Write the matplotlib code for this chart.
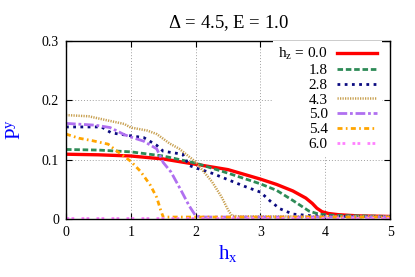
import matplotlib
matplotlib.use("Agg")
import matplotlib.pyplot as plt

# -----------------------------------------------------------------
# data
# -----------------------------------------------------------------
hz_labels = ["0.0", "1.8", "2.8", "4.3", "5.0", "5.4", "6.0"]

x_00 = [0, 0.5, 1.0, 1.5, 2.0, 2.5, 3.0, 3.25, 3.5, 3.7, 3.8, 3.87, 3.95, 4.05, 4.2, 4.5, 5.0]
y_00 = [0.109, 0.108, 0.106, 0.101, 0.092, 0.083, 0.067, 0.058, 0.047, 0.035, 0.026, 0.018, 0.012,
        0.009, 0.007, 0.005, 0.004]

x_18 = [0, 0.5, 1.0, 1.5, 2.0, 2.5, 3.0, 3.25, 3.5, 3.75, 3.9, 4.1, 4.5, 5.0]
y_18 = [0.117, 0.116, 0.113, 0.106, 0.094, 0.077, 0.059, 0.048, 0.031, 0.013, 0.008, 0.006, 0.005, 0.004]

x_28 = [0, 0.55, 0.62, 0.7, 1.0, 1.2, 1.4, 1.5, 1.8, 1.9, 2.0, 2.25, 2.5, 2.75, 3.0, 3.15, 3.3,
        3.5, 3.8, 4.2, 5.0]
y_28 = [0.155, 0.155, 0.150, 0.145, 0.140, 0.137, 0.124, 0.114, 0.109, 0.090, 0.086, 0.077, 0.066,
        0.055, 0.045, 0.030, 0.017, 0.008, 0.005, 0.004, 0.004]

x_43 = [0, 0.35, 0.6, 0.9, 1.0, 1.25, 1.4, 1.5, 1.6, 1.75, 2.0, 2.25, 2.4, 2.5, 2.56, 2.7, 5.0]
y_43 = [0.175, 0.173, 0.167, 0.160, 0.154, 0.149, 0.143, 0.135, 0.127, 0.118, 0.096, 0.063, 0.037,
        0.015, 0.005, 0.004, 0.004]

x_50 = [0, 0.45, 0.68, 0.9, 1.0, 1.2, 1.4, 1.5, 1.62, 1.77, 1.9, 2.0, 2.1, 5.0]
y_50 = [0.161, 0.158, 0.154, 0.142, 0.138, 0.131, 0.118, 0.095, 0.079, 0.049, 0.022, 0.005, 0.003, 0.003]

x_54 = [0, 0.2, 0.4, 0.65, 0.8, 1.0, 1.15, 1.3, 1.4, 1.46, 1.5, 5.0]
y_54 = [0.143, 0.136, 0.132, 0.126, 0.113, 0.097, 0.080, 0.057, 0.036, 0.015, 0.003, 0.003]

x_60 = [0, 5.0]
y_60 = [0.002, 0.002]

xs = [x_00, x_18, x_28, x_43, x_50, x_54, x_60]
ys = [y_00, y_18, y_28, y_43, y_50, y_54, y_60]

colors = ["#ff0000", "#2e8b57", "#0a0a80", "#c8a050", "#b070f0", "#ffa500", "#ff80ff"]
dashes = [None, (2, 1), (1, 1.6), (0.5, 0.5), (3.5, 1, 1, 1), (1.8, 1.2, 0.6, 1.2), (1, 0.8, 1, 2.6)]
widths = [2.4, 2.0, 2.0, 1.8, 2.0, 2.0, 2.0]

# -----------------------------------------------------------------
# style
# -----------------------------------------------------------------
plt.rcParams["font.family"] = ["Liberation Serif", "DejaVu Serif"]
plt.rcParams["mathtext.fontset"] = "custom"
plt.rcParams["mathtext.rm"] = "Liberation Serif"
plt.rcParams["mathtext.it"] = "Liberation Serif:italic"

fig = plt.figure(figsize=(4.15, 2.77), dpi=100)
ax = fig.add_axes([0.159, 0.21, 0.781, 0.642])

for i in range(len(xs)):
    label = hz_labels[i] if i > 0 else r"$\mathregular{h_z}$ = " + hz_labels[i]
    line, = ax.plot(xs[i], ys[i], color=colors[i], lw=widths[i], label=label)
    if dashes[i] is not None:
        line.set_dashes(dashes[i])

ax.set_xlim(0, 5)
ax.set_ylim(0, 0.3)
ax.set_xticks([0, 1, 2, 3, 4, 5])
ax.set_yticks([0, 0.1, 0.2, 0.3])
ax.set_yticklabels(["0", "0.1", "0.2", "0.3"])
ax.tick_params(direction="in", top=True, right=True, labelsize=10, length=4, width=0.8, pad=5)
ax.grid(True, color="#a0a0a0", linestyle=(0, (1, 2)), linewidth=0.7)
for s in ax.spines.values():
    s.set_linewidth(1.0)

ax.set_title(r"$\mathregular{\Delta}$ = 4.5, E = 1.0", fontsize=13.5, pad=9)
ax.set_xlabel(r"$\mathregular{h_x}$", color="#0000ff", fontsize=15, labelpad=3)
ax.set_ylabel(r"$\mathregular{P^y}$", color="#0000ff", fontsize=15, labelpad=12)

# markerfirst=False puts the handle on the right; rows are then right-aligned
leg = ax.legend(loc="upper right", bbox_to_anchor=(0.975, 1.0), borderaxespad=0.0,
                markerfirst=False, fontsize=11, handlelength=2.6, handletextpad=0.6,
                labelspacing=0.07, borderpad=0.35, fancybox=False, framealpha=1.0)
leg.get_frame().set_edgecolor("none")

fig.savefig("out.png", dpi=100)
